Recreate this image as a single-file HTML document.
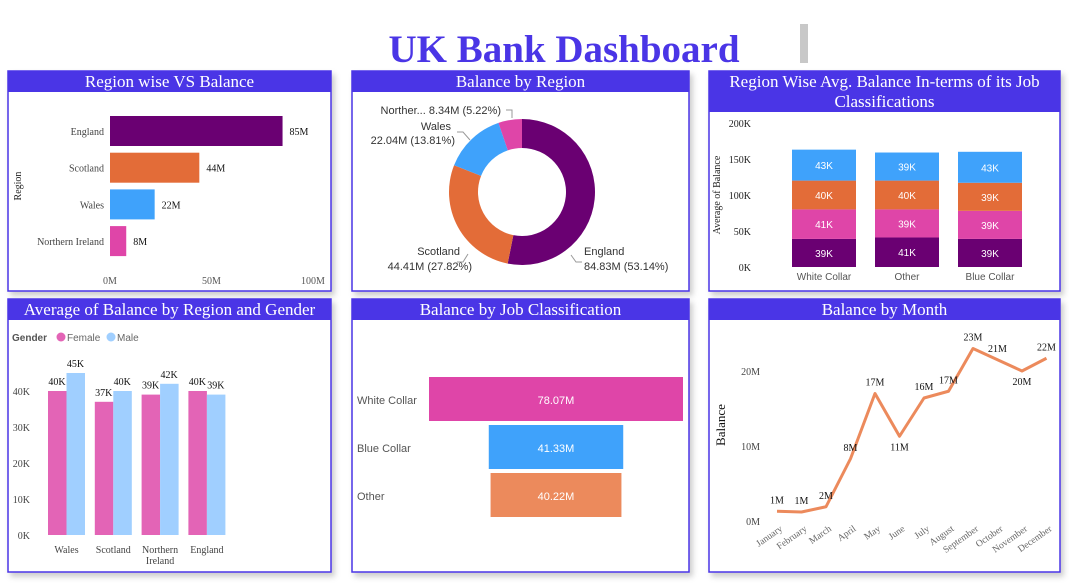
<!DOCTYPE html>
<html><head><meta charset="utf-8"><style>
body{margin:0;background:#fff;width:1069px;height:583px;overflow:hidden}
svg{display:block}
.t{font-family:"Liberation Serif",serif}
.s{font-family:"Liberation Sans",sans-serif}
</style></head><body>
<svg id="c" width="1069" height="583" xmlns="http://www.w3.org/2000/svg">
<defs><filter id="sh" x="-5%" y="-5%" width="115%" height="115%"><feDropShadow dx="3" dy="4" stdDeviation="3" flood-color="#000" flood-opacity="0.2"/></filter></defs>
<text x="564" y="62" text-anchor="middle" style="font-family:'Liberation Serif',serif;font-size:39px;font-weight:bold" fill="#4a35e6">UK Bank Dashboard</text>
<rect x="800" y="24" width="8" height="39" fill="#c8c8c8"/>
<g id="g"></g>
</svg>
<script>
// data
const regions1=["England","Scotland","Wales","Northern Ireland"];
const regionBal=[85,44,22,8];
const donutLabels=["England","Scotland","Wales","Northern Ireland"];
const donutVals=[84.83,44.41,22.04,8.34];
const jobCats=["White Collar","Other","Blue Collar"];
const stackSeries=[[39,41,39],[41,39,39],[40,40,39],[43,39,43]];
const genderRegions=["Wales","Scotland","Northern|Ireland","England"];
const female=[40,37,39,40];
const male=[45,40,42,39];
const funnelCats=["White Collar","Blue Collar","Other"];
const funnelVals=[78.07,41.33,40.22];
const months=["January","February","March","April","May","June","July","August","September","October","November","December"];
const monthVals=[1.3,1.2,1.9,8.3,17,11.3,16.4,17.3,23,21.5,20,21.7];
const monthLbl=["1M","1M","2M","8M","17M","11M","16M","17M","23M","21M","20M","22M"];

const NS="http://www.w3.org/2000/svg",G=document.getElementById('g');
function el(t,a,p){const e=document.createElementNS(NS,t);for(const k in a)e.setAttribute(k,a[k]);(p||G).appendChild(e);return e;}
function tx(x,y,s,a,p){const e=el('text',Object.assign({x:x,y:y},a),p);e.textContent=s;return e;}
function panel(x,y,w,h,th,title,name){
 const g=el('g',{});
 
 
 const r=el('rect',{x:x,y:y,width:w,height:h,fill:'#fff',stroke:'#4a35e6','stroke-width':1.5,filter:'url(#sh)'},g);
 
 const b=el('rect',{x:x,y:y,width:w,height:th,fill:'#4a35e6'},g);
 
 title.forEach((t,i)=>{const e=tx(x+w/2,y+16+i*20,t,{'class':'t','font-size':17,fill:'#fff','text-anchor':'middle'},g);
  });
 return g;
}
const colReg=["#6a0072","#e36c38","#3fa2fb","#df45a8"];

// Panel 1
let p=panel(8,71,323,220,21,["Region wise VS Balance"],'region-balance-panel');
const bx=v=>110+v*2.03;
regionBal.forEach((v,i)=>{const y=116+i*36.7;
 const r=el('rect',{x:bx(0),y:y,width:bx(v)-bx(0),height:30,fill:colReg[i]},p);
 
 tx(104,y+19,regions1[i],{'class':'t','font-size':10,fill:'#444','text-anchor':'end'},p);
 tx(bx(v)+7,y+19,v+'M',{'class':'t','font-size':10,fill:'#111'},p);
});
[0,50,100].forEach(v=>tx(bx(v),284,v+'M',{'class':'t','font-size':10,fill:'#555','text-anchor':'middle'},p));
tx(21,186,'Region',{'class':'t','font-size':10,fill:'#222','text-anchor':'middle',transform:'rotate(-90 21 186)'},p);

// Panel 2 donut
p=panel(352,71,337,220,21,["Balance by Region"],'balance-by-region-panel');
const tot=donutVals.reduce((a,b)=>a+b,0),cx=522,cy=192,R=73,r0=44;
let a0=0;
donutVals.forEach((v,i)=>{const a1=a0+v/tot*2*Math.PI;
 const P=(a,r)=>[cx+r*Math.sin(a),cy-r*Math.cos(a)];
 const [x1,y1]=P(a0,R),[x2,y2]=P(a1,R),[x3,y3]=P(a1,r0),[x4,y4]=P(a0,r0),lg=(a1-a0)>Math.PI?1:0;
 const s=el('path',{d:`M${x1},${y1}A${R},${R} 0 ${lg} 1 ${x2},${y2}L${x3},${y3}A${r0},${r0} 0 ${lg} 0 ${x4},${y4}Z`,fill:colReg[i]},p);
 
 a0=a1;});
const pct=donutVals.map(v=>(v/tot*100).toFixed(2));
const ls={'class':'s','font-size':11,fill:'#333'};
tx(584,255,'England',ls,p);tx(584,270,donutVals[0]+'M ('+pct[0]+'%)',ls,p);
tx(460,255,'Scotland',Object.assign({'text-anchor':'end'},ls),p);tx(472,270,donutVals[1]+'M ('+pct[1]+'%)',Object.assign({'text-anchor':'end'},ls),p);
tx(451,130,'Wales',Object.assign({'text-anchor':'end'},ls),p);tx(455,144,donutVals[2]+'M ('+pct[2]+'%)',Object.assign({'text-anchor':'end'},ls),p);
tx(501,114,'Norther... '+donutVals[3]+'M ('+pct[3]+'%)',Object.assign({'text-anchor':'end'},ls),p);
['M506,110L512,110L512,118','M457,132L463,132L470,140','M457,262L463,262L468,254','M582,262L576,262L571,255'].forEach(d=>el('path',{d:d,fill:'none',stroke:'#999'},p));

// Panel 3 stacked
p=panel(709,71,351,220,41,["Region Wise Avg. Balance In-terms of its Job","Classifications"],'job-stack-panel');
const sy=v=>267-v*0.72;
[0,50,100,150,200].forEach(v=>tx(751,sy(v)+4,v+'K',{'class':'t','font-size':10,fill:'#222','text-anchor':'end'},p));
tx(720,195,'Average of Balance',{'class':'t','font-size':10,fill:'#222','text-anchor':'middle',transform:'rotate(-90 720 195)'},p);
const stackCol=["#6a0072","#df45a8","#e36c38","#3fa2fb"];
jobCats.forEach((c,j)=>{const x=792+j*83;let acc=0;
 stackSeries.forEach((s,k)=>{const v=s[j];
  const r=el('rect',{x:x,y:sy(acc+v),width:64,height:v*0.72,fill:stackCol[k]},p);
  
  tx(x+32,sy(acc+v/2)+4,v+'K',{'class':'s','font-size':10,fill:'#fff','text-anchor':'middle'},p);acc+=v;});
 tx(x+32,280,c,{'class':'s','font-size':10,fill:'#555','text-anchor':'middle'},p);});

// Panel 4 grouped
p=panel(8,299,323,273,21,["Average of Balance by Region and Gender"],'gender-panel');
tx(12,341,'Gender',{'class':'s','font-size':10,'font-weight':'bold',fill:'#555'},p);
el('circle',{cx:61,cy:337,r:4.5,fill:'#e364b6'},p);tx(67,341,'Female',{'class':'s','font-size':10,fill:'#666'},p);
el('circle',{cx:111,cy:337,r:4.5,fill:'#a0cfff'},p);tx(117,341,'Male',{'class':'s','font-size':10,fill:'#666'},p);
const gy=v=>535-v*3.6;
[0,10,20,30,40].forEach(v=>tx(30,gy(v)+4,v+'K',{'class':'t','font-size':10,fill:'#444','text-anchor':'end'},p));
genderRegions.forEach((rg,i)=>{const x=48+i*46.8;
 [[female,'#e364b6',0],[male,'#a0cfff',18.5]].forEach(([arr,col,o])=>{
  const r=el('rect',{x:x+o,y:gy(arr[i]),width:18.5,height:arr[i]*3.6,fill:col},p);
  
  tx(x+o+9,gy(arr[i])-6,arr[i]+'K',{'class':'t','font-size':10,fill:'#111','text-anchor':'middle'},p);});
 rg.split('|').forEach((w,k)=>tx(x+18.5,553+k*11,w,{'class':'t','font-size':10,fill:'#444','text-anchor':'middle'},p));});

// Panel 5 funnel
p=panel(352,299,337,273,21,["Balance by Job Classification"],'funnel-panel');
const fmax=Math.max(...funnelVals);
funnelCats.forEach((c,i)=>{const w=funnelVals[i]/fmax*254,y=377+i*48;
 const r=el('rect',{x:556-w/2,y:y,width:w,height:44,fill:["#df45a8","#3fa2fb","#ec8a5c"][i]},p);
 
 tx(556,y+27,funnelVals[i].toFixed(2)+'M',{'class':'s','font-size':11,fill:'#fff','text-anchor':'middle'},p);
 tx(357,y+27,c,{'class':'s','font-size':11,fill:'#555'},p);});

// Panel 6 line
p=panel(709,299,351,273,21,["Balance by Month"],'month-panel');
const ly=v=>521-v*7.5,lx=i=>777+i*24.5;
[0,10,20].forEach(v=>tx(760,ly(v)+4,v+'M',{'class':'t','font-size':10,fill:'#444','text-anchor':'end'},p));
tx(725,425,'Balance',{'class':'t','font-size':13,fill:'#111','text-anchor':'middle',transform:'rotate(-90 725 425)'},p);
const ln=el('polyline',{points:monthVals.map((v,i)=>lx(i)+','+ly(v)).join(' '),fill:'none',stroke:'#ec8a5c','stroke-width':3,'stroke-linejoin':'round'},p);

const below=[5,10];
monthVals.forEach((v,i)=>{const yy=below.includes(i)?ly(v)+14:ly(v)-8;
 tx(lx(i),yy,monthLbl[i],{'class':'t','font-size':10,fill:'#111','text-anchor':'middle'},p);
 tx(lx(i)+6,530,months[i],{'class':'t','font-size':9.5,fill:'#666','text-anchor':'end',transform:`rotate(-35 ${lx(i)+6} 530)`},p);});
</script>
</body></html>
